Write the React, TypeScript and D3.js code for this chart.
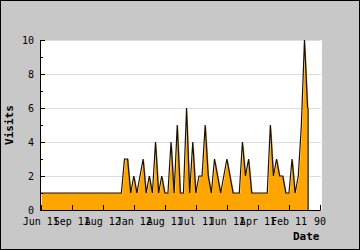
import React from "react";
import * as d3 from "d3";

const visits: number[] = [
  1, 1, 1, 1, 1, 1, 1, 1, 1, 1, 1, 1, 1, 1, 1, 1, 1, 1, 1, 1, 1, 1, 1, 1, 1, 1, 1,
  3, 3, 1, 2, 1, 2, 3, 1, 2, 1, 4, 1, 2, 1, 1, 4, 1, 5, 1, 1, 6, 1, 4, 1, 2, 2, 5,
  2, 1, 3, 2, 1, 2, 3, 2, 1, 1, 1, 4, 2, 3, 1, 1, 1, 1, 1, 1, 5, 2, 3, 2, 2, 1, 1,
  3, 1, 2, 5, 10, 6,
];
const xTickLabels: string[] = [
  "Jun 11", "Sep 11", "Aug 12", "Jan 12", "Aug 11", "Jul 11", "Jun 11", "Apr 11", "Feb 11", "90",
];
const xTickValues: number[] = [0, 10, 20, 30, 40, 50, 60, 70, 80, 90];
const yMajor: number[] = [0, 2, 4, 6, 8, 10];
const yMinor: number[] = [1, 3, 5, 7, 9];

export default function App() {
  const W = 360, H = 250;
  const left = 40, right = 320, top = 40, bottom = 210;
  const x = d3.scaleLinear().domain([0, 90]).range([left + 0.7, right]);
  const y = d3.scaleLinear().domain([0, 10]).range([bottom, top]);
  const pts = visits.map((v, i) => [i, v] as [number, number]);
  const area = d3.area<[number, number]>().x(d => x(d[0])).y0(y(0)).y1(d => y(d[1]));
  const line = d3.line<[number, number]>().x(d => x(d[0])).y(d => y(d[1]));
  const last = visits.length - 1;
  const mono = "'DejaVu Sans Mono', monospace";
  return (
    <svg width={W} height={H} style={{ position: "absolute", left: 0, top: 0 }}>
      <rect x={0.5} y={0.5} width={W - 1} height={H - 1} fill="#c8c8c8" stroke="#000" />
      <rect x={left + 1} y={top} width={right - left + 1} height={bottom - top} fill="#fff" />
      {yMajor.filter(v => v > 0).map(v => (
        <line key={"g" + v} x1={left + 1} x2={right + 1} y1={Math.round(y(v)) + 0.5} y2={Math.round(y(v)) + 0.5} stroke="#dddddd" />
      ))}
      <path d={area(pts) || ""} fill="#ffa500" transform="translate(1,0)" />
      <path d={line(pts) || ""} fill="none" stroke="#111" strokeWidth={1.2} />
      <line x1={x(last) + 0.5} x2={x(last) + 0.5} y1={y(visits[last])} y2={y(0)} stroke="#000" strokeWidth={1} />
      {/* axes */}
      <line x1={left + 0.5} x2={left + 0.5} y1={top} y2={bottom + 0.5} stroke="#000" />
      <line x1={left} x2={right + 0.5} y1={bottom + 0.5} y2={bottom + 0.5} stroke="#000" />
      {yMajor.map(v => (
        <g key={"ym" + v}>
          <line x1={left} x2={left + 5} y1={Math.round(y(v)) + 0.5} y2={Math.round(y(v)) + 0.5} stroke="#000" />
          <text x={34} y={y(v) + 3.5} textAnchor="end" fontFamily={mono} fontSize={10} fill="#000">{v}</text>
        </g>
      ))}
      {yMinor.map(v => (
        <line key={"yn" + v} x1={left} x2={left + 3} y1={Math.round(y(v)) + 0.5} y2={Math.round(y(v)) + 0.5} stroke="#000" />
      ))}
      {xTickValues.map((t, i) => (
        <g key={"xt" + t}>
          <line x1={Math.round(x(t)) + 0.5} x2={Math.round(x(t)) + 0.5} y1={bottom} y2={bottom - 5} stroke="#000" />
          <text x={x(t)} y={225} textAnchor="middle" fontFamily={mono} fontSize={10} fill="#000">{xTickLabels[i]}</text>
        </g>
      ))}
      <text x={319.5} y={239.5} textAnchor="end" fontFamily={mono} fontWeight="bold" fontSize={11} fill="#000">Date</text>
      <text transform={`translate(13,${(top + bottom) / 2}) rotate(-90)`} textAnchor="middle" fontFamily={mono} fontWeight="bold" fontSize={11} fill="#000">Visits</text>
    </svg>
  );
}
